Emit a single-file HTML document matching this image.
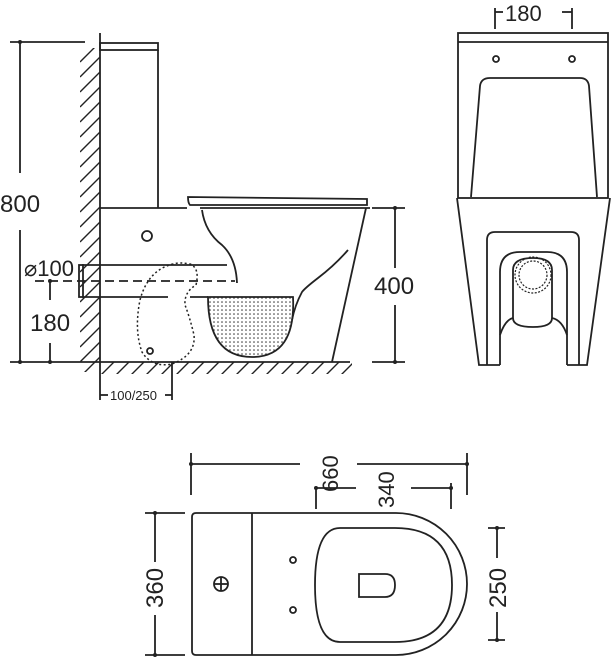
<!DOCTYPE html>
<html><head><meta charset="utf-8"><style>
html,body{margin:0;padding:0;background:#fff;}
svg{display:block;}
text{font-family:"Liberation Sans",sans-serif;fill:#222;}
</style></head><body>
<svg width="612" height="660" viewBox="0 0 612 660" xmlns="http://www.w3.org/2000/svg">
<defs>
<pattern id="dots" width="4" height="4" patternUnits="userSpaceOnUse"><circle cx="2" cy="2" r="0.8" fill="#333"/></pattern>
<clipPath id="wallclip"><rect x="80" y="48" width="20" height="324"/></clipPath>
<clipPath id="floorclip"><rect x="100" y="362" width="252" height="12"/></clipPath>
</defs>
<g stroke="#222" stroke-width="1.8" fill="none">
<line x1="100" y1="33" x2="100" y2="400"/>
<g clip-path="url(#wallclip)" stroke-width="1.4">
<path d="M80,62 L100,42 M80,77 L100,57 M80,92 L100,72 M80,107 L100,87 M80,122 L100,102 M80,137 L100,117 M80,152 L100,132 M80,167 L100,147 M80,182 L100,162 M80,197 L100,177 M80,212 L100,192 M80,227 L100,207 M80,242 L100,222 M80,257 L100,237 M80,272 L100,252 M80,287 L100,267 M80,302 L100,282 M80,317 L100,297 M80,332 L100,312 M80,347 L100,327 M80,362 L100,342 M80,377 L100,357"/>
</g>
<g clip-path="url(#floorclip)" stroke-width="1.4">
<path d="M100,376 L114,362 M115,376 L129,362 M130,376 L144,362 M145,376 L159,362 M160,376 L174,362 M175,376 L189,362 M190,376 L204,362 M205,376 L219,362 M220,376 L234,362 M235,376 L249,362 M250,376 L264,362 M265,376 L279,362 M280,376 L294,362 M295,376 L309,362 M310,376 L324,362 M325,376 L339,362 M340,376 L354,362"/>
</g>
<line x1="10" y1="362" x2="350" y2="362"/>
<rect x="100" y="43" width="58" height="7"/>
<line x1="158" y1="50" x2="158" y2="208"/>
<line x1="100" y1="208" x2="187" y2="208"/>
<path d="M188,197 L367,199 L367,205 L190,205 Q188,203 188,197 Z"/>
<line x1="200" y1="208" x2="370" y2="208"/>
<path d="M366,208 L332,362"/>
<path d="M202,210 Q205,232 222,245 Q236,258 237,283"/>
<path d="M348,250 Q335,265 318,278 Q305,288 302,292 Q295,305 292,320"/>
<path d="M208,297 L293,297 Q296,357 252,357 Q208,357 208,297 Z" fill="url(#dots)"/>
<circle cx="147" cy="236" r="5"/>
<circle cx="150" cy="351" r="3"/>
<line x1="82" y1="265" x2="227" y2="265"/>
<line x1="82" y1="297" x2="168" y2="297"/>
<line x1="190" y1="297" x2="208" y2="297"/>
<rect x="79" y="265" width="4" height="32"/>
<line x1="35" y1="281" x2="235" y2="281" stroke-dasharray="9,5"/>
<path d="M173,264 Q148,270 140,300 Q134,330 142,352 Q152,368 172,364 Q196,355 194,335 Q190,318 185,305 Q184,292 196,285 Q200,268 190,264 Q180,262 173,264 Z" stroke-dasharray="2,2.5" stroke-width="1.5"/>
<line x1="10" y1="42" x2="85" y2="42"/>
<line x1="20" y1="42" x2="20" y2="173"/>
<line x1="20" y1="230" x2="20" y2="362"/>
<line x1="50" y1="281" x2="50" y2="300"/>
<line x1="50" y1="343" x2="50" y2="362"/>
<line x1="372" y1="208" x2="405" y2="208"/>
<line x1="372" y1="362" x2="405" y2="362"/>
<line x1="395" y1="208" x2="395" y2="268"/>
<line x1="395" y1="305" x2="395" y2="362"/>
<line x1="172" y1="362" x2="172" y2="400"/>
<line x1="100" y1="395" x2="108" y2="395"/>
<line x1="165" y1="395" x2="172" y2="395"/>
<rect x="458" y="33" width="150" height="165"/>
<line x1="458" y1="42" x2="608" y2="42"/>
<circle cx="496" cy="59" r="3"/><circle cx="572" cy="59" r="3"/>
<path d="M471,197 L480,86 Q481,78 490,78 L580,78 Q588,78 589,86 L597,197"/>
<path d="M457,198 L479,365 L500,365 M610,198 L587,365 L567,365"/>
<path d="M487,365 L487,240 Q487,232 495,232 L571,232 Q579,232 579,240 L579,365"/>
<path d="M500,365 L500,272 Q500,252 520,252 L547,252 Q567,252 567,272 L567,365"/>
<path d="M513,318 L513,270 Q513,258 533,258 Q552,258 552,270 L552,318 Q552,327 533,327 Q513,327 513,318 Z"/>
<path d="M500,335 Q505,320 513,318 M567,335 Q562,320 552,318"/>
<circle cx="533" cy="275" r="18" stroke-dasharray="2,1.5" stroke-width="1.2"/>
<circle cx="533" cy="275" r="14" stroke-dasharray="2,1.5" stroke-width="1.2"/>
<line x1="495" y1="8" x2="495" y2="29"/><line x1="572" y1="8" x2="572" y2="29"/>
<line x1="495" y1="12" x2="503" y2="12"/><line x1="562" y1="12" x2="572" y2="12"/>
<path d="M192,517 Q192,513 196,513 L396,513 A71,71 0 0 1 396,655 L196,655 Q192,655 192,651 Z"/>
<line x1="252" y1="513" x2="252" y2="655"/>
<circle cx="221" cy="584" r="7"/>
<line x1="214" y1="584" x2="228" y2="584"/><line x1="221" y1="577" x2="221" y2="591"/>
<circle cx="293" cy="560" r="3"/><circle cx="293" cy="610" r="3"/>
<path d="M340,528 L395,528 Q452,528 452,585 Q452,642 395,642 L340,642 Q315,642 315,585 Q315,528 340,528 Z"/>
<path d="M359,574 L385,574 Q395,574 395,585 Q395,597 385,597 L359,597 Z"/>
<line x1="191" y1="453" x2="191" y2="495"/>
<line x1="467" y1="453" x2="467" y2="495"/>
<line x1="191" y1="464" x2="300" y2="464"/>
<line x1="357" y1="464" x2="467" y2="464"/>
<line x1="316" y1="488" x2="316" y2="509"/>
<line x1="451" y1="483" x2="451" y2="509"/>
<line x1="316" y1="488" x2="356" y2="488"/>
<line x1="411" y1="488" x2="451" y2="488"/>
<line x1="145" y1="513" x2="185" y2="513"/>
<line x1="145" y1="655" x2="185" y2="655"/>
<line x1="155" y1="513" x2="155" y2="562"/>
<line x1="155" y1="615" x2="155" y2="655"/>
<line x1="488" y1="528" x2="505" y2="528"/>
<line x1="488" y1="640" x2="505" y2="640"/>
<line x1="497" y1="528" x2="497" y2="558"/>
<line x1="497" y1="612" x2="497" y2="640"/>
</g>
<g fill="#222">
<circle cx="20" cy="42" r="2"/><circle cx="20" cy="362" r="2"/><circle cx="50" cy="362" r="2"/><circle cx="50" cy="281" r="2"/>
<circle cx="395" cy="208" r="2"/><circle cx="395" cy="362" r="2"/>
<circle cx="191" cy="464" r="2"/><circle cx="467" cy="464" r="2"/><circle cx="316" cy="488" r="2"/><circle cx="451" cy="488" r="2"/>
<circle cx="155" cy="513" r="2"/><circle cx="155" cy="655" r="2"/><circle cx="497" cy="528" r="2"/><circle cx="497" cy="640" r="2"/>
</g>
<text x="0" y="212" font-size="24">800</text>
<text x="24" y="276" font-size="22">⌀100</text>
<text x="30" y="331" font-size="24">180</text>
<text x="374" y="294" font-size="24">400</text>
<text x="110" y="400" font-size="13">100/250</text>
<text x="505" y="21" font-size="22">180</text>
<text transform="translate(338,492) rotate(-90)" font-size="22">660</text>
<text transform="translate(394,508) rotate(-90)" font-size="22">340</text>
<text transform="translate(163,608) rotate(-90)" font-size="24">360</text>
<text transform="translate(506,608) rotate(-90)" font-size="24">250</text>
</svg>
</body></html>
